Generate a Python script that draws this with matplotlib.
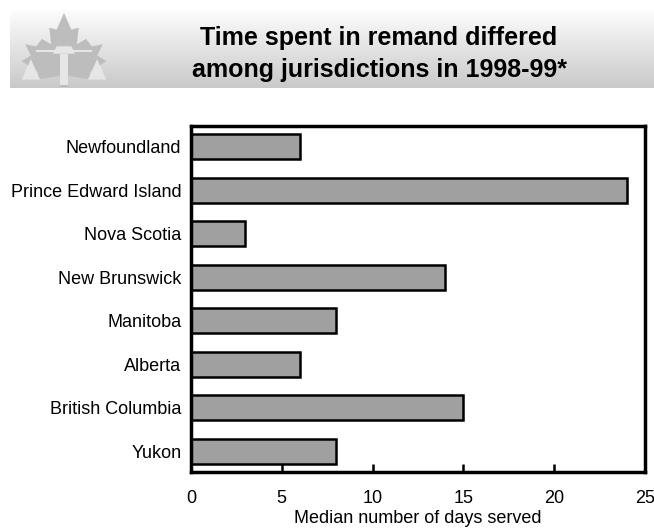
import numpy as np
import matplotlib
matplotlib.use("Agg")
import matplotlib.pyplot as plt
from matplotlib.patches import Polygon

plt.rcParams['font.family'] = ['Liberation Sans', 'DejaVu Sans']

# Data
jurisdictions = ["Newfoundland", "Prince Edward Island", "Nova Scotia",
                 "New Brunswick", "Manitoba", "Alberta",
                 "British Columbia", "Yukon"]
median_days = [6, 24, 3, 14, 8, 6, 15, 8]
x_ticks = [0, 5, 10, 15, 20, 25]

title_lines = ["Time spent in remand differed",
               "among jurisdictions in 1998-99*"]
x_label = "Median number of days served"

W, H = 654, 529
fig = plt.figure(figsize=(W / 100, H / 100), dpi=100)
fig.patch.set_facecolor("white")


def fx(px):
    return px / W


def fy(py):
    return 1 - py / H


# Header band with vertical grey gradient
band = fig.add_axes([fx(10), fy(88), fx(654 - 10), (88 - 10) / H])
grad = np.linspace(0.99, 0.79, 100).reshape(-1, 1)
band.imshow(np.dstack([grad, grad, grad]), aspect="auto",
            extent=[0, 1, 0, 1], origin="upper")
band.set_xlim(0, 1)
band.set_ylim(0, 1)
band.axis("off")

# Emblem: maple leaf with scales of justice
logo = fig.add_axes([fx(18), fy(87), fx(92), 74 / H])
logo.set_xlim(0, 100)
logo.set_ylim(0, 80)
logo.axis("off")
leaf = [(50, 80), (58, 62), (66, 64), (64, 46), (74, 52), (80, 44),
        (92, 46), (86, 34), (96, 28), (78, 16), (80, 8), (54, 12),
        (54, 0), (46, 0), (46, 12), (20, 8), (22, 16), (4, 28),
        (14, 34), (8, 46), (20, 44), (26, 52), (36, 46), (34, 64),
        (42, 62)]
logo.add_patch(Polygon(leaf, closed=True, facecolor="#bdbdbd",
                       edgecolor="none"))
light = "#e6e6e6"
logo.add_patch(Polygon([(4, 8), (24, 8), (14, 30)], closed=True,
                       facecolor=light, edgecolor="none"))
logo.add_patch(Polygon([(76, 8), (96, 8), (86, 30)], closed=True,
                       facecolor=light, edgecolor="none"))
logo.add_patch(Polygon([(46, 2), (54, 2), (54, 36), (46, 36)], closed=True,
                       facecolor=light, edgecolor="none"))
logo.add_patch(Polygon([(20, 38), (80, 38), (80, 40), (20, 40)], closed=True,
                       facecolor=light, edgecolor="none"))
logo.add_patch(Polygon([(38, 36), (62, 36), (58, 44), (42, 44)], closed=True,
                       facecolor=light, edgecolor="none"))

# Title
fig.text(fx(379), fy(38), title_lines[0], ha="center", va="center",
         fontsize=18, fontweight="bold", color="black")
fig.text(fx(379), fy(70), title_lines[1], ha="center", va="center",
         fontsize=18, fontweight="bold", color="black")

# Bar chart
ax = fig.add_axes([fx(191), fy(472), fx(645 - 191), (472 - 126) / H])
y = np.arange(len(jurisdictions))
ax.barh(y, median_days, height=0.58, color="#a0a0a0",
        edgecolor="black", linewidth=1.8, zorder=2)
ax.set_xlim(0, 25)
ax.set_ylim(len(jurisdictions) - 1 + 0.48, -0.48)
ax.set_yticks(y)
ax.set_yticklabels(jurisdictions, fontsize=13)
ax.set_xticks(x_ticks)
ax.set_xticklabels([str(t) for t in x_ticks], fontsize=13)
ax.tick_params(axis="y", length=0, pad=7)
ax.tick_params(axis="x", direction="in", length=6, width=1.8, pad=13)
for s in ax.spines.values():
    s.set_linewidth(2.5)
ax.set_xlabel(x_label, fontsize=13, labelpad=2)

fig.savefig("out.png", dpi=100)
